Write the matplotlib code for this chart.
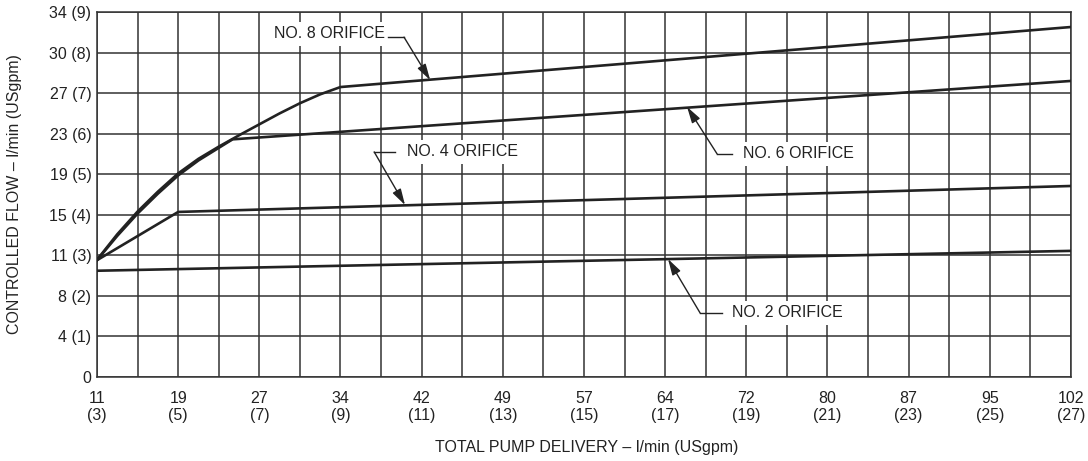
import matplotlib
matplotlib.use("Agg")
import matplotlib.pyplot as plt

plt.rcParams['font.family'] = ['Liberation Sans', 'DejaVu Sans']
plt.rcParams['font.size'] = 11.5

# data in USgpm
x_ticks = [3, 5, 7, 9, 11, 13, 15, 17, 19, 21, 23, 25, 27]
x_labels = ["11\n(3)", "19\n(5)", "27\n(7)", "34\n(9)", "42\n(11)", "49\n(13)", "57\n(15)",
            "64\n(17)", "72\n(19)", "80\n(21)", "87\n(23)", "95\n(25)", "102\n(27)"]
y_ticks = [0, 1, 2, 3, 4, 5, 6, 7, 8, 9]
y_labels = ["0", "4 (1)", "8 (2)", "11 (3)", "15 (4)", "19 (5)", "23 (6)", "27 (7)", "30 (8)", "34 (9)"]

no2_x = [3, 27]
no2_y = [2.62, 3.11]
no4_x = [3, 5, 27]
no4_y = [2.88, 4.07, 4.71]
no6_x = [3, 3.5, 4, 4.5, 5, 5.5, 6, 6.34, 27]
no6_y = [2.88, 3.48, 4.03, 4.52, 4.97, 5.34, 5.65, 5.86, 7.30]
no8_x = [3, 3.5, 4, 4.5, 5, 5.5, 6, 6.5, 7, 7.5, 8, 8.5, 9, 27]
no8_y = [2.89, 3.52, 4.08, 4.57, 5.02, 5.38, 5.68, 5.96, 6.23, 6.50, 6.75, 6.97, 7.15, 8.63]

# label: text position, leader start, bend, arrow tip
labels = ["NO. 8 ORIFICE", "NO. 4 ORIFICE", "NO. 6 ORIFICE", "NO. 2 ORIFICE"]
text_xy = [(7.36, 8.46), (10.64, 5.55), (18.92, 5.50), (18.65, 1.58)]
lead_start = [(10.17, 8.38), (10.34, 5.55), (18.65, 5.50), (18.40, 1.58)]
lead_bend = [(10.565, 8.38), (9.83, 5.55), (18.28, 5.50), (17.86, 1.58)]
arrow_tip = [(11.21, 7.32), (10.59, 4.24), (17.54, 6.66), (17.07, 2.91)]

ink = '#222222'

fig = plt.figure(figsize=(10.88, 4.61), dpi=100)
ax = fig.add_axes([97/1088, 1 - 377/461, 974/1088, 365/461])

ax.set_xlim(3, 27)
ax.set_ylim(0, 9)
ax.set_xticks(x_ticks)
ax.set_xticklabels(x_labels, linespacing=1.15)
ax.set_xticks(range(3, 28), minor=True)
ax.set_yticks(y_ticks)
ax.set_yticklabels(y_labels)
ax.tick_params(which='both', length=0, colors=ink)
ax.tick_params(axis='x', pad=10)
ax.tick_params(axis='y', pad=4)
ax.grid(True, which='both', color='#333333', linewidth=1.1)
ax.set_axisbelow(True)
for s in ax.spines.values():
    s.set_color('#333333')
    s.set_linewidth(1.1)

for xs, ys in [(no2_x, no2_y), (no4_x, no4_y), (no6_x, no6_y), (no8_x, no8_y)]:
    ax.plot(xs, ys, color=ink, linewidth=1.9, solid_joinstyle='round', zorder=3)

for lab, txy, ls, lb, tip in zip(labels, text_xy, lead_start, lead_bend, arrow_tip):
    ax.text(txy[0], txy[1], lab, ha='left', va='center', color=ink, zorder=5,
            bbox=dict(facecolor='white', edgecolor='none', pad=3))
    ax.plot([ls[0], lb[0]], [ls[1], lb[1]], color=ink, linewidth=1.0, zorder=5)
    ax.annotate('', xy=tip, xytext=lb,
                arrowprops=dict(arrowstyle='-|>,head_length=0.7,head_width=0.2',
                                color=ink, linewidth=1.0, mutation_scale=14,
                                shrinkA=0, shrinkB=0), zorder=5)

fig.text(15/1088, 1 - 194/461, "CONTROLLED FLOW – l/min (USgpm)", rotation=90,
         ha='center', va='center', color=ink)
fig.text(587/1088, 1 - 447/461, "TOTAL PUMP DELIVERY – l/min (USgpm)",
         ha='center', va='center', color=ink)

fig.savefig('out.png', dpi=100, facecolor='white')
